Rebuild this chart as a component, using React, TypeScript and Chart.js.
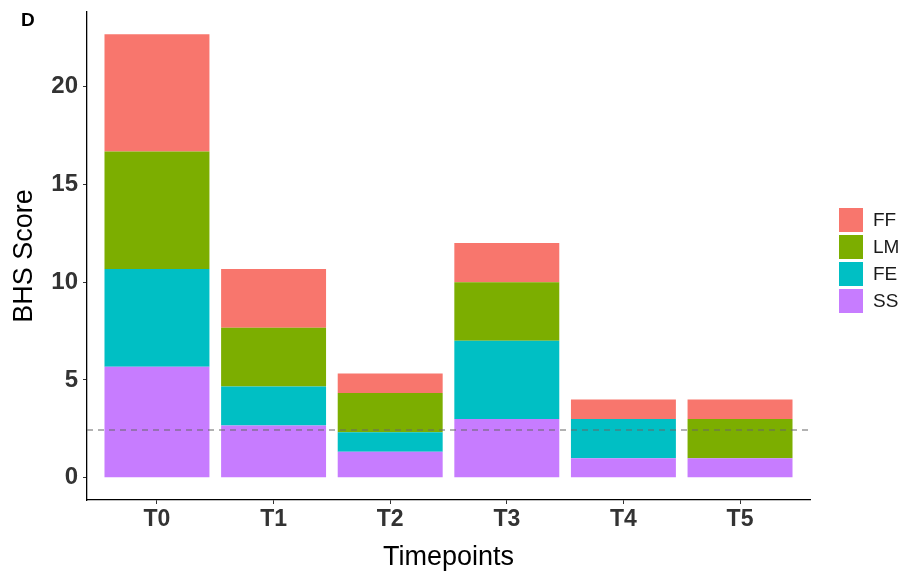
import React, { useEffect, useRef } from "react";
import { Chart, registerables } from "chart.js";

Chart.register(...registerables);

const categories = ["T0", "T1", "T2", "T3", "T4", "T5"];
const ssValues = [5.67, 2.67, 1.33, 3, 1, 1];
const feValues = [5, 2, 1, 4, 2, 0];
const lmValues = [6, 3, 2, 3, 0, 2];
const ffValues = [6, 3, 1, 2, 1, 1];
const yTicks = [0, 5, 10, 15, 20];
const thresholdValue = 2.44;

const seriesNames = ["SS", "FE", "LM", "FF"];
const seriesColors = ["#C77CFF", "#00BFC4", "#7CAE00", "#F8766D"];
const seriesValues = [ssValues, feValues, lmValues, ffValues];

const FONT = "'Liberation Sans', Arial, Helvetica, sans-serif";

const thresholdPlugin = {
  id: "thresholdLine",
  afterDatasetsDraw(chart: any) {
    const { ctx, chartArea, scales } = chart;
    const y = scales.y.getPixelForValue(thresholdValue);
    ctx.save();
    ctx.strokeStyle = "#666666";
    ctx.lineWidth = 1.1;
    ctx.setLineDash([6, 5]);
    ctx.beginPath();
    ctx.moveTo(chartArea.left, y);
    ctx.lineTo(chartArea.right, y);
    ctx.stroke();
    ctx.restore();
  },
};

export default function App() {
  const canvasRef = useRef<HTMLCanvasElement | null>(null);

  useEffect(() => {
    if (!canvasRef.current) return;
    const total = categories.map((_, i) =>
      seriesValues.reduce((s, arr) => s + arr[i], 0)
    );
    const maxTotal = Math.max(...total);
    const expand = maxTotal * 0.05;
    const chart = new Chart(canvasRef.current, {
      type: "bar",
      data: {
        datasets: seriesNames.map((name, k) => ({
          label: name,
          data: categories.map((_, i) => ({ x: i, y: seriesValues[k][i] })),
          backgroundColor: seriesColors[k],
          borderWidth: 0,
          barPercentage: 0.9,
          categoryPercentage: 1,
        })),
      },
      options: {
        animation: false,
        responsive: false,
        maintainAspectRatio: false,
        layout: { padding: { top: 12, right: 111, left: 0, bottom: 0 } },
        plugins: { legend: { display: false }, tooltip: { enabled: false } },
        scales: {
          x: {
            type: "linear",
            stacked: true,
            min: -0.6,
            max: categories.length - 1 + 0.6,
            offset: false,
            afterBuildTicks: (scale: any) => {
              scale.ticks = categories.map((_, i) => ({ value: i }));
            },
            afterFit: (scale: any) => {
              scale.height = 76;
              scale.paddingLeft = 0;
              scale.paddingRight = 0;
            },
            ticks: {
              callback: (v: any) => categories[Math.round(Number(v))] ?? "",
              font: { family: FONT, size: 23, weight: "bold" },
              color: "#333333",
              padding: 2,
              maxRotation: 0,
              autoSkip: false,
            },
            grid: {
              display: true,
              offset: false,
              drawOnChartArea: false,
              drawTicks: true,
              tickLength: 4,
              color: "#333333",
              lineWidth: 1,
            },
            border: { display: true, color: "#000000", width: 1.3 },
            title: {
              display: true,
              text: "Timepoints",
              font: { family: FONT, size: 27 },
              color: "#000000",
              padding: { top: 0, bottom: 2 },
            },
          },
          y: {
            type: "linear",
            stacked: true,
            min: -expand,
            max: maxTotal + expand,
            afterBuildTicks: (scale: any) => {
              scale.ticks = yTicks.map((v) => ({ value: v }));
            },
            afterFit: (scale: any) => {
              scale.width = 87;
              scale.paddingTop = 0;
              scale.paddingBottom = 0;
            },
            ticks: {
              font: { family: FONT, size: 24, weight: "bold" },
              color: "#333333",
              padding: 5,
            },
            grid: {
              display: true,
              offset: false,
              drawOnChartArea: false,
              drawTicks: true,
              tickLength: 4,
              color: "#333333",
              lineWidth: 1,
            },
            border: { display: true, color: "#000000", width: 1.3 },
            title: {
              display: true,
              text: "BHS Score",
              font: { family: FONT, size: 27 },
              color: "#000000",
              padding: { top: 8, bottom: 0 },
            },
          },
        },
      },
      plugins: [thresholdPlugin],
    } as any);
    return () => chart.destroy();
  }, []);

  const legendOrder = [3, 2, 1, 0];

  return (
    <div
      style={{
        position: "fixed",
        left: 0,
        top: 0,
        width: 921,
        height: 576,
        background: "#ffffff",
        fontFamily: FONT,
      }}
    >
      <canvas ref={canvasRef} width={921} height={576} style={{ display: "block" }} />
      <div
        style={{
          position: "absolute",
          left: 21,
          top: 8,
          fontSize: 19,
          fontWeight: "bold",
          color: "#000",
          lineHeight: "24px",
        }}
      >
        D
      </div>
      <div style={{ position: "absolute", left: 838, top: 206 }}>
        {legendOrder.map((k) => (
          <div
            key={seriesNames[k]}
            style={{ display: "flex", alignItems: "center", height: 27 }}
          >
            <div
              style={{
                width: 26,
                height: 26,
                background: seriesColors[k],
                border: "0.5px solid #ffffff",
                boxSizing: "border-box",
              }}
            />
            <span
              style={{
                marginLeft: 9,
                fontSize: 19,
                color: "#1a1a1a",
                lineHeight: "27px",
              }}
            >
              {seriesNames[k]}
            </span>
          </div>
        ))}
      </div>
    </div>
  );
}
